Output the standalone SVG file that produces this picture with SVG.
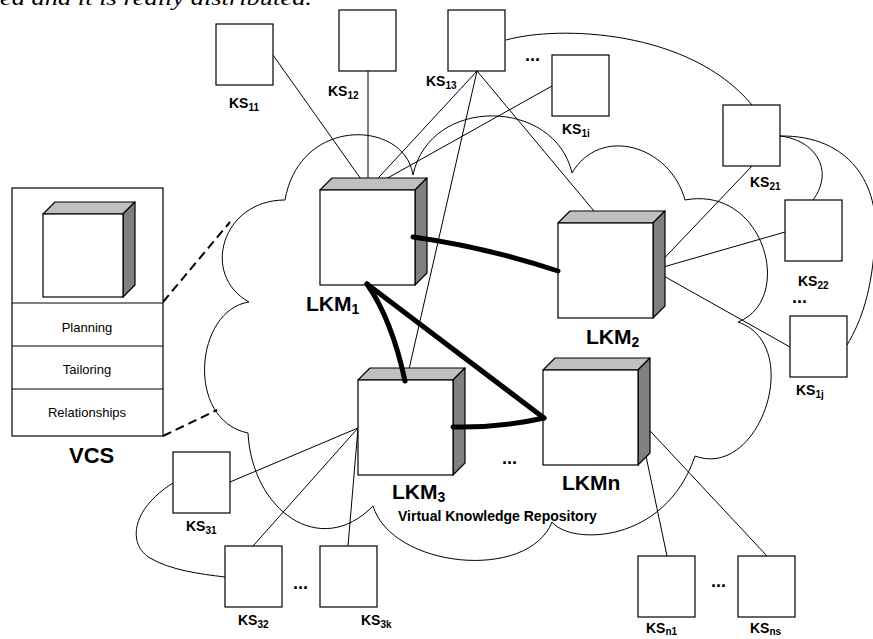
<svg xmlns="http://www.w3.org/2000/svg" width="873" height="639" viewBox="0 0 873 639">
  <style>
    .ln { fill: none; stroke: #000; stroke-width: 1; }
    .thick { fill: none; stroke: #000; stroke-width: 5; stroke-linecap: round; }
    .dash { fill: none; stroke: #000; stroke-width: 2; stroke-dasharray: 9 5; }
    .box { fill: #fff; stroke: #000; stroke-width: 1.2; }
    .front { fill: #fff; stroke: #000; stroke-width: 1.2; }
    .top { fill: #c0c0c0; stroke: #000; stroke-width: 1.2; stroke-linejoin: round; }
    .side { fill: #808080; stroke: #000; stroke-width: 1.2; stroke-linejoin: round; }
    .ks { font-family: "Liberation Sans", Arial, sans-serif; font-weight: bold; font-size: 14px; fill: #000; }
    .sub { font-size: 10px; }
    .lkm { font-family: "Liberation Sans", Arial, sans-serif; font-weight: bold; font-size: 21px; fill: #000; }
    .lsub { font-size: 14px; }
    .dots { font-family: "Liberation Sans", Arial, sans-serif; font-weight: bold; font-size: 18px; fill: #000; }
    .row { font-family: "Liberation Sans", Arial, sans-serif; font-size: 13px; fill: #000; text-anchor: middle; }
  </style>
  <defs>
    <!-- generic knowledge-source box (57 x 61) -->
    <rect id="ksbox" width="57" height="61" class="box"/>
    <!-- 3D cube: 95 x 95 front face, 12 px depth -->
    <g id="cube">
      <polygon class="top" points="0,0 12,-12 107,-12 95,0"/>
      <polygon class="side" points="95,0 107,-12 107,83 95,95"/>
      <rect class="front" width="95" height="95"/>
    </g>
  </defs>

  <rect width="873" height="639" fill="#fff"/>

  <!-- running text line above the figure -->
  <text x="0" y="5" font-family="'Liberation Serif', 'Times New Roman', serif" font-style="italic" font-size="20" textLength="312" lengthAdjust="spacingAndGlyphs">ed and it is really distributed.</text>

  <!-- repository cloud -->
  <g id="cloud">
    <path class="ln" d="M285,200 C222,200 200,275 249,302 C195,310 185,420 248,433 C252,510 320,560 373,506 C392,568 528,582 552,522 C570,545 665,545 695,456 C760,480 805,345 738,322 C795,300 765,185 685,200 C670,145 600,125 572,173 C555,98 430,95 413,175 C405,120 300,115 285,200 Z"/>
    <text x="398" y="521" font-family="'Liberation Sans', Arial, sans-serif" font-weight="bold" font-size="14">Virtual Knowledge Repository</text>
  </g>

  <!-- connectors -->
  <g id="connectors">
    <!-- links between knowledge sources -->
    <path class="ln" d="M506,40 C560,25 690,30 752,105"/>
    <path class="ln" d="M780,136 C815,140 835,170 813,200"/>
    <path class="ln" d="M780,136 C850,135 880,185 875,240 C872,290 862,320 847,345"/>
    <path class="ln" d="M173,483 C130,510 128,545 150,558 C170,570 200,574 225,577"/>

    <!-- LKM1 to its sources -->
    <line class="ln" x1="368" y1="189" x2="273" y2="55"/>
    <line class="ln" x1="368" y1="189" x2="368" y2="71"/>
    <line class="ln" x1="368" y1="189" x2="477" y2="71"/>
    <line class="ln" x1="368" y1="189" x2="552" y2="86"/>
    <!-- KS13 shared by several LKMs -->
    <line class="ln" x1="477" y1="71" x2="407" y2="378"/>
    <line class="ln" x1="477" y1="71" x2="604" y2="223"/>
    <!-- LKM2 to its sources -->
    <line class="ln" x1="653" y1="270" x2="752" y2="166"/>
    <line class="ln" x1="653" y1="270" x2="785" y2="232"/>
    <line class="ln" x1="653" y1="270" x2="790" y2="347"/>
    <!-- LKM3 to its sources -->
    <line class="ln" x1="358" y1="428" x2="230" y2="482"/>
    <line class="ln" x1="358" y1="428" x2="253" y2="546"/>
    <line class="ln" x1="358" y1="428" x2="348" y2="546"/>
    <!-- LKMn to its sources -->
    <line class="ln" x1="638" y1="418" x2="667" y2="556"/>
    <line class="ln" x1="638" y1="418" x2="767" y2="556"/>

    <!-- VCS zoom lines -->
    <line class="dash" x1="163" y1="302" x2="230" y2="222"/>
    <line class="dash" x1="163" y1="436" x2="217" y2="410"/>
  </g>

  <!-- LKM cubes -->
  <g id="lkm1">
    <use href="#cube" x="320" y="190"/>
    <text class="lkm" x="306" y="311">LKM<tspan class="lsub" dy="3">1</tspan></text>
  </g>
  <g id="lkm2">
    <use href="#cube" x="558" y="223"/>
    <text class="lkm" x="586" y="344">LKM<tspan class="lsub" dy="3">2</tspan></text>
  </g>
  <g id="lkm3">
    <use href="#cube" x="358" y="380"/>
    <text class="lkm" x="392" y="499">LKM<tspan class="lsub" dy="3">3</tspan></text>
  </g>
  <g id="lkmn">
    <use href="#cube" x="543" y="370"/>
    <text class="lkm" x="562" y="490" font-size="22.5">LKMn</text>
  </g>
  <text class="dots" x="502" y="464">...</text>

  <!-- thick LKM-to-LKM links -->
  <g id="lkm-links">
    <path class="thick" d="M413,237 Q485,247 558,271"/>
    <path class="thick" d="M367,284 Q392,320 405,381"/>
    <path class="thick" d="M367,284 L544,418"/>
    <path class="thick" d="M453,427 Q500,428 544,418"/>
  </g>

  <!-- knowledge sources -->
  <g id="ks11"><use href="#ksbox" x="216" y="24"/><text class="ks" x="229" y="108">KS<tspan class="sub" dy="3">11</tspan></text></g>
  <g id="ks12"><use href="#ksbox" x="339" y="10"/><text class="ks" x="328" y="96">KS<tspan class="sub" dy="3">12</tspan></text></g>
  <g id="ks13"><use href="#ksbox" x="448" y="10"/><text class="ks" x="426" y="86">KS<tspan class="sub" dy="3">13</tspan></text></g>
  <g id="ks1i"><use href="#ksbox" x="552" y="55"/><text class="ks" x="562" y="134">KS<tspan class="sub" dy="3">1i</tspan></text></g>
  <text class="dots" x="525" y="61">...</text>

  <g id="ks21"><use href="#ksbox" x="723" y="105"/><text class="ks" x="750" y="187">KS<tspan class="sub" dy="3">21</tspan></text></g>
  <g id="ks22"><use href="#ksbox" x="785" y="200"/><text class="ks" x="798" y="286">KS<tspan class="sub" dy="3">22</tspan></text></g>
  <text class="dots" x="792" y="303">...</text>
  <g id="ks1j"><use href="#ksbox" x="790" y="316"/><text class="ks" x="796" y="395">KS<tspan class="sub" dy="3">1j</tspan></text></g>

  <g id="ks31"><use href="#ksbox" x="173" y="452"/><text class="ks" x="186" y="531">KS<tspan class="sub" dy="3">31</tspan></text></g>
  <g id="ks32"><use href="#ksbox" x="225" y="546"/><text class="ks" x="238" y="625">KS<tspan class="sub" dy="3">32</tspan></text></g>
  <text class="dots" x="293" y="589">...</text>
  <g id="ks3k"><use href="#ksbox" x="320" y="546"/><text class="ks" x="361" y="625">KS<tspan class="sub" dy="3">3k</tspan></text></g>

  <g id="ksn1"><use href="#ksbox" x="638" y="556"/><text class="ks" x="646" y="633">KS<tspan class="sub" dy="2">n1</tspan></text></g>
  <text class="dots" x="711" y="587">...</text>
  <g id="ksns"><use href="#ksbox" x="738" y="556"/><text class="ks" x="750" y="633">KS<tspan class="sub" dy="2">ns</tspan></text></g>

  <!-- VCS panel -->
  <g id="vcs">
    <rect x="12" y="188" width="151" height="248" class="box"/>
    <line class="ln" x1="12" y1="303" x2="163" y2="303" stroke-width="1.2"/>
    <line class="ln" x1="12" y1="346" x2="163" y2="346" stroke-width="1.2"/>
    <line class="ln" x1="12" y1="389" x2="163" y2="389" stroke-width="1.2"/>
    <polygon class="top" points="43,214 55,202 135,202 123,214"/>
    <polygon class="side" points="123,214 135,202 135,285 123,297"/>
    <rect class="front" x="43" y="214" width="80" height="83"/>
    <text class="row" x="87" y="332">Planning</text>
    <text class="row" x="87" y="374">Tailoring</text>
    <text class="row" x="87" y="417">Relationships</text>
    <text x="69" y="463" font-family="'Liberation Sans', Arial, sans-serif" font-weight="bold" font-size="22">VCS</text>
  </g>
</svg>
